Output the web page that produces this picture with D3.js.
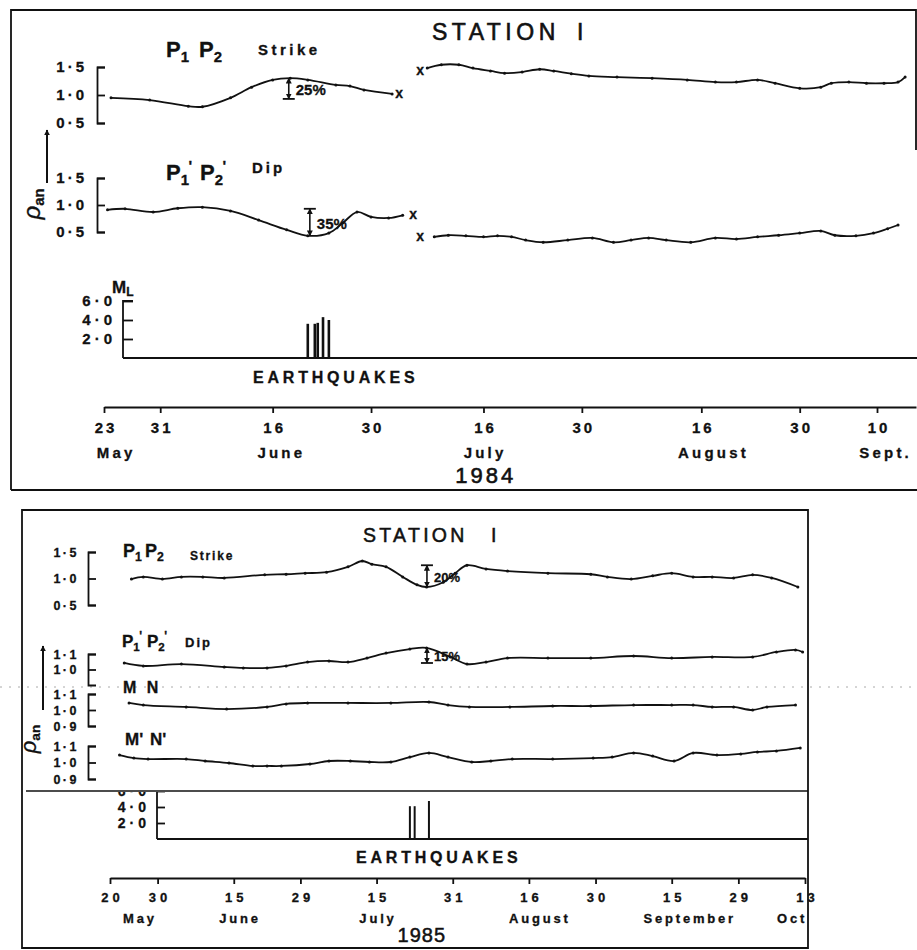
<!DOCTYPE html>
<html><head><meta charset="utf-8">
<script src="https://cdn.jsdelivr.net/npm/d3@7"></script>
<style>
body{margin:0;background:#fff}
svg{display:block}
text{font-family:"Liberation Sans",Arial,sans-serif;fill:#111;stroke:#111;stroke-width:0.3px}
</style></head><body>
<svg id="c" width="917" height="950"></svg>
<script>
// ---------------- DATA : 1984 ----------------
const ticks1984 = ["1984-05-23","1984-05-31","1984-06-16","1984-06-30","1984-07-16","1984-07-30","1984-08-16","1984-08-30","1984-09-10"];
const tickLabels1984 = ["23","31","16","30","16","30","16","30","10"];
const months1984 = ["May","June","July","August","Sept."];
const monthDates1984 = ["1984-05-24T12","1984-06-17","1984-07-16","1984-08-17T12","1984-09-11"];
const yearDate1984 = "1984-07-16T08";

const strike1984A = [["1984-05-24",0.95],["1984-05-29T12",0.91],["1984-06-04",0.80],["1984-06-06",0.79],["1984-06-10",0.95],["1984-06-13",1.14],["1984-06-16",1.27],["1984-06-18T12",1.30],["1984-06-21",1.27],["1984-06-25",1.18],["1984-06-27",1.16],["1984-06-29",1.09],["1984-07-03",1.02]];
const strike1984B = [["1984-07-08",1.48],["1984-07-10",1.54],["1984-07-12T12",1.54],["1984-07-14T12",1.48],["1984-07-17",1.43],["1984-07-19",1.39],["1984-07-21T12",1.41],["1984-07-24",1.46],["1984-07-26",1.43],["1984-07-28T12",1.38],["1984-07-31",1.34],["1984-08-04",1.32],["1984-08-09",1.30],["1984-08-14",1.27],["1984-08-18",1.23],["1984-08-21",1.23],["1984-08-24",1.27],["1984-08-26T12",1.21],["1984-08-30",1.12],["1984-09-02",1.14],["1984-09-03T12",1.21],["1984-09-06",1.23],["1984-09-08T12",1.21],["1984-09-11",1.21],["1984-09-13",1.23],["1984-09-14",1.32]];
const dip1984A = [["1984-05-23T12",0.91],["1984-05-26",0.93],["1984-05-30",0.87],["1984-06-02T12",0.94],["1984-06-06",0.96],["1984-06-10",0.89],["1984-06-14",0.72],["1984-06-18",0.54],["1984-06-21",0.43],["1984-06-24",0.48],["1984-06-26",0.67],["1984-06-28",0.87],["1984-06-30",0.78],["1984-07-02T12",0.76],["1984-07-04T12",0.81]];
const dip1984B = [["1984-07-09",0.41],["1984-07-11",0.44],["1984-07-13T12",0.43],["1984-07-16",0.41],["1984-07-18",0.43],["1984-07-20",0.41],["1984-07-22",0.35],["1984-07-24T12",0.31],["1984-07-28",0.35],["1984-07-31T12",0.39],["1984-08-03T12",0.31],["1984-08-06",0.35],["1984-08-08T12",0.39],["1984-08-11",0.35],["1984-08-14T12",0.31],["1984-08-18",0.39],["1984-08-21",0.37],["1984-08-24",0.41],["1984-08-27",0.44],["1984-08-30",0.48],["1984-09-02",0.52],["1984-09-04",0.44],["1984-09-07",0.43],["1984-09-09T12",0.48],["1984-09-11T12",0.56],["1984-09-13",0.63]];
const strikeGaps1984 = [["1984-07-04",1.02],["1984-07-07",1.43]];
const dipGaps1984 = [["1984-07-06",0.81],["1984-07-07",0.41]];
const quakes1984 = [["1984-06-21",3.6],["1984-06-22",3.6],["1984-06-22T10",3.7],["1984-06-23T04",4.3],["1984-06-24",4.0]];
const pctStrike1984 = ["1984-06-18T07",1.30,0.93,"25%"];
const pctDip1984 = ["1984-06-21T07",0.93,0.43,"35%"];
const rhoTicks1984 = [0.5,1.0,1.5];
const quakeTicks = [2,4,6];

// ---------------- DATA : 1985 ----------------
const ticks1985 = ["1985-05-20","1985-05-30","1985-06-15","1985-06-29","1985-07-15","1985-07-31","1985-08-16","1985-08-30","1985-09-15","1985-09-29","1985-10-13"];
const tickLabels1985 = ["20","30","15","29","15","31","16","30","15","29","13"];
const months1985 = ["May","June","July","August","September","Oct"];
const monthDates1985 = ["1985-05-26","1985-06-16","1985-07-15","1985-08-18","1985-09-18T12","1985-10-10"];
const yearDate1985 = "1985-07-24T12";

const strike1985 = [["1985-05-24T12",0.99],["1985-05-27",1.03],["1985-05-31",0.99],["1985-06-04",1.03],["1985-06-08T12",1.03],["1985-06-13",1.01],["1985-06-21T12",1.07],["1985-06-26",1.08],["1985-06-30",1.10],["1985-07-04T12",1.12],["1985-07-09",1.22],["1985-07-12",1.33],["1985-07-14",1.27],["1985-07-17",1.22],["1985-07-20T12",1.03],["1985-07-23T12",0.88],["1985-07-25T12",0.84],["1985-07-29",0.93],["1985-07-31T12",1.10],["1985-08-03",1.25],["1985-08-07",1.18],["1985-08-11T12",1.14],["1985-08-20",1.10],["1985-08-29",1.08],["1985-09-01T12",1.03],["1985-09-06T12",0.99],["1985-09-11",1.05],["1985-09-15",1.10],["1985-09-19T12",1.03],["1985-09-23T12",1.03],["1985-09-28",1.01],["1985-10-02",1.07],["1985-10-06",1.01],["1985-10-11T12",0.84]];
const dip1985 = [["1985-05-23",1.042],["1985-05-27",1.023],["1985-06-04",1.035],["1985-06-13",1.016],["1985-06-17",1.01],["1985-06-22",1.01],["1985-06-26",1.023],["1985-06-30T12",1.048],["1985-07-05",1.055],["1985-07-09",1.048],["1985-07-13",1.074],["1985-07-17",1.106],["1985-07-22",1.132],["1985-07-25T12",1.139],["1985-07-30T12",1.081],["1985-08-03",1.035],["1985-08-07",1.048],["1985-08-11T12",1.074],["1985-08-20",1.074],["1985-08-29",1.074],["1985-09-07",1.087],["1985-09-15",1.074],["1985-09-23T12",1.081],["1985-10-02",1.081],["1985-10-07",1.113],["1985-10-11",1.126],["1985-10-12T12",1.113]];
const mn1985 = [["1985-05-24",1.044],["1985-05-27",1.031],["1985-06-05",1.019],["1985-06-13T12",1.006],["1985-06-22",1.019],["1985-06-26",1.038],["1985-06-30T12",1.044],["1985-07-09",1.044],["1985-07-18",1.044],["1985-07-26",1.05],["1985-07-30",1.031],["1985-08-03T12",1.019],["1985-08-12",1.019],["1985-08-21",1.025],["1985-08-29",1.025],["1985-09-07",1.031],["1985-09-15",1.031],["1985-09-19T12",1.031],["1985-09-23T12",1.019],["1985-09-28",1.019],["1985-10-02",1.0],["1985-10-05",1.019],["1985-10-11",1.031]];
const mnPrime1985 = [["1985-05-22",1.045],["1985-05-25",1.027],["1985-05-28",1.021],["1985-06-05",1.021],["1985-06-09",1.009],["1985-06-14",0.997],["1985-06-19",0.979],["1985-06-22",0.979],["1985-06-25",0.979],["1985-07-01",0.991],["1985-07-05",1.009],["1985-07-09T12",1.009],["1985-07-13T12",1.003],["1985-07-18",1.003],["1985-07-22",1.033],["1985-07-26",1.058],["1985-07-30",1.033],["1985-08-04",1.003],["1985-08-08",1.009],["1985-08-12T12",1.021],["1985-08-21",1.021],["1985-08-29T12",1.027],["1985-09-02T12",1.033],["1985-09-07",1.058],["1985-09-11",1.039],["1985-09-15T12",1.009],["1985-09-19T12",1.058],["1985-09-24T12",1.045],["1985-09-29T12",1.052],["1985-10-03",1.064],["1985-10-07",1.07],["1985-10-12",1.088]];
const quakes1985 = [["1985-07-22",4.1],["1985-07-23",4.1],["1985-07-26",4.75]];
const pctStrike1985 = ["1985-07-25T14",1.25,0.84,"20%"];
const pctDip1985 = ["1985-07-25T14",1.139,1.042,"15%"];
const strikeTicks1985 = [0.5,1.0,1.5];
const dipTicks1985 = [1.0,1.1];
const mnTicks1985 = [0.9,1.0,1.1];

// ---------------- DRAWING ----------------
const svg = d3.select("#c");
const INK = "#111";
const LW = 1.8;
const P = s => new Date(s.length === 10 ? s + "T00:00:00Z" : s + ":00:00Z");
const fmt = d => d3.format(".1f")(d).replace(".", "\u00b7");

const defs = svg.append("defs");
defs.append("marker").attr("id","ah").attr("viewBox","0 0 10 10").attr("refX",9).attr("refY",5)
  .attr("markerWidth",6).attr("markerHeight",6).attr("markerUnits","userSpaceOnUse")
  .attr("orient","auto-start-reverse").append("path").attr("d","M0,0L10,5L0,10Z").attr("fill",INK);
defs.append("clipPath").attr("id","eqclip").append("rect").attr("x",-200).attr("y",792).attr("width",1200).attr("height",60);

// frames
svg.append("path").attr("d","M11,490V10H916V150").attr("fill","none").attr("stroke",INK).attr("stroke-width",LW);
svg.append("path").attr("d","M11,490H917").attr("fill","none").attr("stroke",INK).attr("stroke-width",LW);
svg.append("path").attr("d","M22,510H808V948H22Z").attr("fill","none").attr("stroke",INK).attr("stroke-width",LW);
svg.append("path").attr("d","M26,791H808").attr("fill","none").attr("stroke",INK).attr("stroke-width",1.5);
svg.append("path").attr("d","M0,687H917").attr("fill","none").attr("stroke","#aaa").attr("stroke-width",1).attr("stroke-dasharray","2 7");

// scales
const x84 = d3.scaleUtc().domain([P("1984-05-23"), P("1984-09-10")]).range([104, 877]);
const x85 = d3.scaleUtc().domain([P("1985-05-20"), P("1985-10-13")]).range([110, 805]);
const yStrike84 = d3.scaleLinear().domain([0.5,1.5]).range([123,67]);
const yDip84 = d3.scaleLinear().domain([0.5,1.5]).range([232,178]);
const yEq84 = d3.scaleLinear().domain([0,6]).range([358,301]);
const yStrike85 = d3.scaleLinear().domain([0.5,1.5]).range([605,552]);
const yDip85 = d3.scaleLinear().domain([0.9,1.1]).range([685,654]);
const yMN85 = d3.scaleLinear().domain([0.9,1.1]).range([726,694]);
const yMNp85 = d3.scaleLinear().domain([0.9,1.1]).range([779,746]);
const yEq85 = d3.scaleLinear().domain([0,6]).range([839,791]);

function series(data, x, y) {
  const line = d3.line().x(d => x(P(d[0]))).y(d => y(d[1])).curve(d3.curveCatmullRom.alpha(0.5));
  svg.append("path").attr("d", line(data)).attr("fill","none").attr("stroke",INK).attr("stroke-width",LW);
  svg.append("g").selectAll("circle").data(data).join("circle")
    .attr("cx", d => x(P(d[0]))).attr("cy", d => y(d[1])).attr("r",1.5).attr("fill",INK);
}
function gaps(data, x, y) {
  svg.append("g").selectAll("text").data(data).join("text")
    .attr("x", d => x(P(d[0]))).attr("y", d => y(d[1]) + 4)
    .attr("text-anchor","middle").attr("font-size",14).attr("font-weight","bold").text("x");
}
function yAxis(scale, xPos, ticks, fs, ls, pad, tick) {
  const ax = d3.axisLeft(scale).tickValues(ticks).tickSizeInner(-tick).tickSizeOuter(-8).tickPadding(pad).tickFormat(fmt);
  const g = svg.append("g").attr("transform",`translate(${xPos},0)`).call(ax);
  g.select(".domain").attr("stroke",INK).attr("stroke-width",LW);
  g.selectAll(".tick line").attr("stroke",INK).attr("stroke-width",LW);
  g.selectAll(".tick text").attr("font-size",fs).attr("font-weight","bold").attr("fill",INK).attr("letter-spacing",ls);
  return g;
}
function xAxis(scale, yPos, x0, x1, ticks, labels, fs, ls) {
  const s = scale.copy().domain([scale.invert(x0), scale.invert(x1)]).range([x0, x1]);
  const ax = d3.axisBottom(s).tickValues(ticks.map(P)).tickFormat((d,i) => labels[i]).tickSizeInner(6).tickSizeOuter(0).tickPadding(9);
  const g = svg.append("g").attr("transform",`translate(0,${yPos})`).call(ax);
  g.select(".domain").attr("stroke",INK).attr("stroke-width",LW);
  g.selectAll(".tick line").attr("stroke",INK).attr("stroke-width",LW);
  g.selectAll(".tick text").attr("font-size",fs).attr("font-weight","bold").attr("fill",INK).attr("letter-spacing",ls).attr("dx", ls/2);
}
function labelsAt(names, dates, x, yPos, fs, ls) {
  svg.append("g").selectAll("text").data(names).join("text")
    .attr("x", (d,i) => x(P(dates[i])) + ls/2).attr("y", yPos).attr("text-anchor","middle")
    .attr("font-size",fs).attr("font-weight","bold").attr("letter-spacing",ls).text(d => d);
}
function pct(a, x, y, barEnd, fs) {
  const [date, v1, v2, label] = a;
  const px = x(P(date)), y1 = y(v1), y2 = y(v2);
  svg.append("line").attr("x1",px).attr("x2",px).attr("y1",y1).attr("y2",y2).attr("stroke",INK).attr("stroke-width",1.6)
    .attr("marker-start","url(#ah)").attr("marker-end","url(#ah)");
  const yb = barEnd === "top" ? Math.min(y1,y2) : Math.max(y1,y2);
  svg.append("line").attr("x1",px-6).attr("x2",px+6).attr("y1",yb).attr("y2",yb).attr("stroke",INK).attr("stroke-width",LW);
  svg.append("text").attr("x",px+7).attr("y",(y1+y2)/2 + fs*0.45).attr("font-size",fs).attr("font-weight","bold").text(label);
}
function quakeBars(data, x, y, w) {
  svg.append("g").selectAll("line").data(data).join("line")
    .attr("x1", d => x(P(d[0]))).attr("x2", d => x(P(d[0])))
    .attr("y1", y(0)).attr("y2", d => y(d[1])).attr("stroke",INK).attr("stroke-width",w);
}
function pLabel(x, y, sub, prime, fs) {
  const t = svg.append("text").attr("x",x).attr("y",y).attr("font-size",fs).attr("font-weight","bold").text("P");
  t.append("tspan").attr("font-size",fs*0.68).attr("dy",fs*0.22).text(sub);
  if (prime) t.append("tspan").attr("font-size",fs*0.7).attr("dx",-0.5).attr("dy",-fs*0.62).text("'");
}
function rho(cx, cy, fs) {
  const t = svg.append("text").attr("transform",`translate(${cx},${cy}) rotate(-90)`).attr("text-anchor","middle");
  t.append("tspan").attr("font-size",fs).attr("font-style","italic").text("\u03c1");
  t.append("tspan").attr("font-size",fs*0.62).attr("font-weight","bold").attr("dy",fs*0.18).text("an");
}
function upArrow(x, yTop, yBot) {
  svg.append("line").attr("x1",x).attr("x2",x).attr("y1",yBot).attr("y2",yTop).attr("stroke",INK).attr("stroke-width",2).attr("marker-end","url(#ah)");
}

// ===== 1984 panel =====
svg.append("text").attr("x",432).attr("y",40).attr("font-size",23).attr("letter-spacing",4.5).style("stroke-width","0.6px").text("STATION");
svg.append("text").attr("x",577).attr("y",40).attr("font-size",23).style("stroke-width","0.6px").text("I");
pLabel(166, 57, "1", false, 22);
pLabel(199, 57, "2", false, 22);
svg.append("text").attr("x",258).attr("y",55).attr("font-size",15).attr("font-weight","bold").attr("letter-spacing",3.5).text("Strike");
pLabel(166, 180, "1", true, 22);
pLabel(200, 180, "2", true, 22);
svg.append("text").attr("x",252).attr("y",173).attr("font-size",15).attr("font-weight","bold").attr("letter-spacing",3).text("Dip");

yAxis(yStrike84, 97, rhoTicks1984, 15, 3, 10, 8);
yAxis(yDip84, 97, rhoTicks1984, 15, 3, 10, 8);
rho(40, 204, 24);
upArrow(47, 130, 183);

series(strike1984A, x84, yStrike84);
series(strike1984B, x84, yStrike84);
series(dip1984A, x84, yDip84);
series(dip1984B, x84, yDip84);
gaps(strikeGaps1984, x84, yStrike84);
gaps(dipGaps1984, x84, yDip84);
pct(pctStrike1984, x84, yStrike84, "bottom", 15);
pct(pctDip1984, x84, yDip84, "top", 15);

// earthquakes 1984
const m = svg.append("text").attr("x",112).attr("y",293).attr("font-size",17).attr("font-weight","bold").text("M");
m.append("tspan").attr("font-size",12).attr("dy",3).text("L");
yAxis(yEq84, 123, quakeTicks, 15, 4, 7, 10).select(".domain").attr("d",`M10,${yEq84(6)}H0V${yEq84(0)}`);
svg.append("line").attr("x1",123).attr("x2",917).attr("y1",yEq84(0)).attr("y2",yEq84(0)).attr("stroke",INK).attr("stroke-width",LW);
quakeBars(quakes1984, x84, yEq84, 2.6);
svg.append("text").attr("x",253).attr("y",383).attr("font-size",16).attr("font-weight","bold").attr("letter-spacing",3.8).text("EARTHQUAKES");

xAxis(x84, 407, 104, 916, ticks1984, tickLabels1984, 15, 3);
labelsAt(months1984, monthDates1984, x84, 458, 15, 3.2);
svg.append("text").attr("x", x84(P(yearDate1984))).attr("y",483).attr("text-anchor","middle").attr("font-size",22).attr("letter-spacing",3).style("stroke-width","0.6px").text("1984");

// ===== 1985 panel =====
svg.append("text").attr("x",363).attr("y",542).attr("font-size",19.5).attr("letter-spacing",3.3).style("stroke-width","0.5px").text("STATION");
svg.append("text").attr("x",491).attr("y",542).attr("font-size",19.5).style("stroke-width","0.5px").text("I");
pLabel(123, 557, "1", false, 18);
pLabel(145, 557, "2", false, 18);
svg.append("text").attr("x",190).attr("y",560).attr("font-size",12).attr("font-weight","bold").attr("letter-spacing",1.8).text("Strike");
pLabel(122, 647, "1", true, 17);
pLabel(147, 647, "2", true, 17);
svg.append("text").attr("x",185).attr("y",647).attr("font-size",13).attr("font-weight","bold").attr("letter-spacing",2).text("Dip");
svg.append("text").attr("x",123).attr("y",693).attr("font-size",16).attr("font-weight","bold").attr("word-spacing",6).text("M N");
svg.append("text").attr("x",125).attr("y",745).attr("font-size",17).attr("font-weight","bold").attr("word-spacing",2).text("M' N'");

yAxis(yStrike85, 88, strikeTicks1985, 12.5, 2.5, 9, 8);
yAxis(yDip85, 88, dipTicks1985, 12.5, 2.5, 9, 8);
yAxis(yMN85, 88, mnTicks1985, 12.5, 2.5, 9, 8);
yAxis(yMNp85, 88, mnTicks1985, 12.5, 2.5, 9, 8);
rho(36, 739, 22);
upArrow(43, 646, 710);

series(strike1985, x85, yStrike85);
series(dip1985, x85, yDip85);
series(mn1985, x85, yMN85);
series(mnPrime1985, x85, yMNp85);
pct(pctStrike1985, x85, yStrike85, "top", 13);
pct(pctDip1985, x85, yDip85, "bottom", 13);

// earthquakes 1985 (partly covered by the panel above)
const eqG = yAxis(yEq85, 157, quakeTicks, 14, 4, 7, 8).attr("clip-path","url(#eqclip)");
eqG.select(".domain").attr("d",`M8,${yEq85(6)}H0V${yEq85(0)}`);
svg.append("line").attr("x1",157).attr("x2",808).attr("y1",yEq85(0)).attr("y2",yEq85(0)).attr("stroke",INK).attr("stroke-width",LW);
quakeBars(quakes1985, x85, yEq85, 2);
svg.append("text").attr("x",356).attr("y",863).attr("font-size",16).attr("font-weight","bold").attr("letter-spacing",3.8).text("EARTHQUAKES");

xAxis(x85, 878, 110, 805, ticks1985, tickLabels1985, 13, 4);
labelsAt(months1985, monthDates1985, x85, 923, 13, 2.8);
svg.append("text").attr("x", x85(P(yearDate1985))).attr("y",942).attr("text-anchor","middle").attr("font-size",20).attr("letter-spacing",1).style("stroke-width","0.5px").text("1985");
</script>
</body></html>
